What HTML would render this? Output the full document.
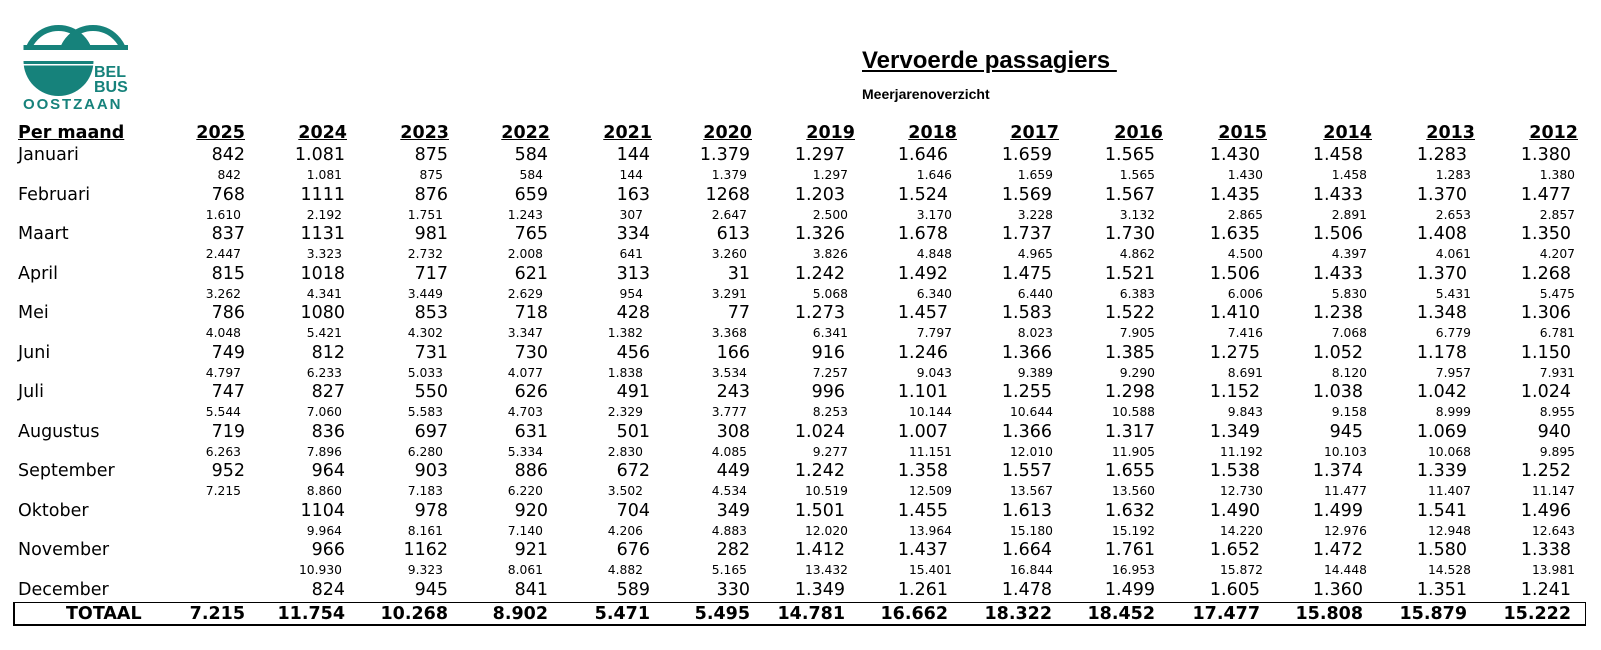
<!DOCTYPE html>
<html><head><meta charset="utf-8">
<style>
body{margin:0;width:1601px;height:650px;background:#fff;position:relative;overflow:hidden;font-family:"DejaVu Sans","Liberation Sans",sans-serif;color:#000}
.r{position:absolute;left:0;width:1601px;height:22px;line-height:22px}
.r span{position:absolute;width:130px;text-align:right;top:0}
.m{font-size:17.5px}
.s{font-size:12.3px}
.h{font-size:17.5px;font-weight:bold}
.h span{text-decoration:underline}
.t{font-size:17.5px;font-weight:bold}
.lab{position:absolute;left:18px;font-size:17.5px;line-height:22px}
.m span:nth-child(1),.t span:nth-child(1){left:115px}.m span:nth-child(2),.t span:nth-child(2){left:215px}.m span:nth-child(3),.t span:nth-child(3){left:318px}.m span:nth-child(4),.t span:nth-child(4){left:418px}.m span:nth-child(5),.t span:nth-child(5){left:520px}.m span:nth-child(6),.t span:nth-child(6){left:620px}.m span:nth-child(7),.t span:nth-child(7){left:715px}.m span:nth-child(8),.t span:nth-child(8){left:818px}.m span:nth-child(9),.t span:nth-child(9){left:922px}.m span:nth-child(10),.t span:nth-child(10){left:1025px}.m span:nth-child(11),.t span:nth-child(11){left:1130px}.m span:nth-child(12),.t span:nth-child(12){left:1233px}.m span:nth-child(13),.t span:nth-child(13){left:1337px}.m span:nth-child(14),.t span:nth-child(14){left:1441px}
.s span:nth-child(1){left:111px}.s span:nth-child(2){left:212px}.s span:nth-child(3){left:313px}.s span:nth-child(4){left:413px}.s span:nth-child(5){left:513px}.s span:nth-child(6){left:617px}.s span:nth-child(7){left:718px}.s span:nth-child(8){left:822px}.s span:nth-child(9){left:923px}.s span:nth-child(10){left:1025px}.s span:nth-child(11){left:1133px}.s span:nth-child(12){left:1237px}.s span:nth-child(13){left:1341px}.s span:nth-child(14){left:1445px}
.h span:nth-child(1){left:115px}.h span:nth-child(2){left:217px}.h span:nth-child(3){left:319px}.h span:nth-child(4){left:420px}.h span:nth-child(5){left:522px}.h span:nth-child(6){left:622px}.h span:nth-child(7){left:725px}.h span:nth-child(8){left:827px}.h span:nth-child(9){left:929px}.h span:nth-child(10){left:1033px}.h span:nth-child(11){left:1137px}.h span:nth-child(12){left:1242px}.h span:nth-child(13){left:1345px}.h span:nth-child(14){left:1448px}
</style></head><body>
<svg style="position:absolute;left:0;top:0" width="140" height="120">
<defs><clipPath id="c1"><circle cx="58.5" cy="60" r="35"/></clipPath><clipPath id="top"><rect x="0" y="0" width="140" height="50"/></clipPath></defs>
<g clip-path="url(#top)" fill="none" stroke="#16827b" stroke-width="6">
<circle cx="58.5" cy="60" r="32"/><circle cx="93" cy="60" r="32"/>
</g>
<g clip-path="url(#top)"><circle cx="93" cy="60" r="35" fill="#16827b" clip-path="url(#c1)"/></g>
<rect x="23.5" y="45" width="104.5" height="5" fill="#16827b"/>
<path d="M23.5 61 L93.5 61 A35 35 0 0 1 23.5 61 Z" fill="#16827b"/>
<rect x="23" y="64" width="72" height="1.5" fill="#fff"/>
<text x="94" y="77" font-family="Liberation Sans" font-weight="bold" font-size="16" fill="#16827b">BEL</text>
<text x="94" y="92" font-family="Liberation Sans" font-weight="bold" font-size="16" fill="#16827b">BUS</text>
<text x="23" y="109" font-family="Liberation Sans" font-weight="bold" font-size="15" fill="#16827b" letter-spacing="1.9">OOSTZAAN</text>
</svg>
<div style="position:absolute;left:862px;top:47px;font-family:'Liberation Sans',sans-serif;font-weight:bold;font-size:24px;text-decoration:underline;white-space:pre">Vervoerde passagiers </div>
<div style="position:absolute;left:862px;top:86px;font-family:'Liberation Sans',sans-serif;font-weight:bold;font-size:14px">Meerjarenoverzicht</div>

<div class="lab" style="top:122px;font-weight:bold;text-decoration:underline">Per maand</div>
<div class="r h" style="top:122px"><span>2025</span><span>2024</span><span>2023</span><span>2022</span><span>2021</span><span>2020</span><span>2019</span><span>2018</span><span>2017</span><span>2016</span><span>2015</span><span>2014</span><span>2013</span><span>2012</span></div>

<div class="lab" style="top:144px">Januari</div>
<div class="r m" style="top:144px"><span>842</span><span>1.081</span><span>875</span><span>584</span><span>144</span><span>1.379</span><span>1.297</span><span>1.646</span><span>1.659</span><span>1.565</span><span>1.430</span><span>1.458</span><span>1.283</span><span>1.380</span></div>
<div class="r s" style="top:164px"><span>842</span><span>1.081</span><span>875</span><span>584</span><span>144</span><span>1.379</span><span>1.297</span><span>1.646</span><span>1.659</span><span>1.565</span><span>1.430</span><span>1.458</span><span>1.283</span><span>1.380</span></div>

<div class="lab" style="top:183.5px">Februari</div>
<div class="r m" style="top:183.5px"><span>768</span><span>1111</span><span>876</span><span>659</span><span>163</span><span>1268</span><span>1.203</span><span>1.524</span><span>1.569</span><span>1.567</span><span>1.435</span><span>1.433</span><span>1.370</span><span>1.477</span></div>
<div class="r s" style="top:203.5px"><span>1.610</span><span>2.192</span><span>1.751</span><span>1.243</span><span>307</span><span>2.647</span><span>2.500</span><span>3.170</span><span>3.228</span><span>3.132</span><span>2.865</span><span>2.891</span><span>2.653</span><span>2.857</span></div>

<div class="lab" style="top:223px">Maart</div>
<div class="r m" style="top:223px"><span>837</span><span>1131</span><span>981</span><span>765</span><span>334</span><span>613</span><span>1.326</span><span>1.678</span><span>1.737</span><span>1.730</span><span>1.635</span><span>1.506</span><span>1.408</span><span>1.350</span></div>
<div class="r s" style="top:243px"><span>2.447</span><span>3.323</span><span>2.732</span><span>2.008</span><span>641</span><span>3.260</span><span>3.826</span><span>4.848</span><span>4.965</span><span>4.862</span><span>4.500</span><span>4.397</span><span>4.061</span><span>4.207</span></div>

<div class="lab" style="top:262.5px">April</div>
<div class="r m" style="top:262.5px"><span>815</span><span>1018</span><span>717</span><span>621</span><span>313</span><span>31</span><span>1.242</span><span>1.492</span><span>1.475</span><span>1.521</span><span>1.506</span><span>1.433</span><span>1.370</span><span>1.268</span></div>
<div class="r s" style="top:282.5px"><span>3.262</span><span>4.341</span><span>3.449</span><span>2.629</span><span>954</span><span>3.291</span><span>5.068</span><span>6.340</span><span>6.440</span><span>6.383</span><span>6.006</span><span>5.830</span><span>5.431</span><span>5.475</span></div>

<div class="lab" style="top:302px">Mei</div>
<div class="r m" style="top:302px"><span>786</span><span>1080</span><span>853</span><span>718</span><span>428</span><span>77</span><span>1.273</span><span>1.457</span><span>1.583</span><span>1.522</span><span>1.410</span><span>1.238</span><span>1.348</span><span>1.306</span></div>
<div class="r s" style="top:322px"><span>4.048</span><span>5.421</span><span>4.302</span><span>3.347</span><span>1.382</span><span>3.368</span><span>6.341</span><span>7.797</span><span>8.023</span><span>7.905</span><span>7.416</span><span>7.068</span><span>6.779</span><span>6.781</span></div>

<div class="lab" style="top:341.5px">Juni</div>
<div class="r m" style="top:341.5px"><span>749</span><span>812</span><span>731</span><span>730</span><span>456</span><span>166</span><span>916</span><span>1.246</span><span>1.366</span><span>1.385</span><span>1.275</span><span>1.052</span><span>1.178</span><span>1.150</span></div>
<div class="r s" style="top:361.5px"><span>4.797</span><span>6.233</span><span>5.033</span><span>4.077</span><span>1.838</span><span>3.534</span><span>7.257</span><span>9.043</span><span>9.389</span><span>9.290</span><span>8.691</span><span>8.120</span><span>7.957</span><span>7.931</span></div>

<div class="lab" style="top:381px">Juli</div>
<div class="r m" style="top:381px"><span>747</span><span>827</span><span>550</span><span>626</span><span>491</span><span>243</span><span>996</span><span>1.101</span><span>1.255</span><span>1.298</span><span>1.152</span><span>1.038</span><span>1.042</span><span>1.024</span></div>
<div class="r s" style="top:401px"><span>5.544</span><span>7.060</span><span>5.583</span><span>4.703</span><span>2.329</span><span>3.777</span><span>8.253</span><span>10.144</span><span>10.644</span><span>10.588</span><span>9.843</span><span>9.158</span><span>8.999</span><span>8.955</span></div>

<div class="lab" style="top:420.5px">Augustus</div>
<div class="r m" style="top:420.5px"><span>719</span><span>836</span><span>697</span><span>631</span><span>501</span><span>308</span><span>1.024</span><span>1.007</span><span>1.366</span><span>1.317</span><span>1.349</span><span>945</span><span>1.069</span><span>940</span></div>
<div class="r s" style="top:440.5px"><span>6.263</span><span>7.896</span><span>6.280</span><span>5.334</span><span>2.830</span><span>4.085</span><span>9.277</span><span>11.151</span><span>12.010</span><span>11.905</span><span>11.192</span><span>10.103</span><span>10.068</span><span>9.895</span></div>

<div class="lab" style="top:460px">September</div>
<div class="r m" style="top:460px"><span>952</span><span>964</span><span>903</span><span>886</span><span>672</span><span>449</span><span>1.242</span><span>1.358</span><span>1.557</span><span>1.655</span><span>1.538</span><span>1.374</span><span>1.339</span><span>1.252</span></div>
<div class="r s" style="top:480px"><span>7.215</span><span>8.860</span><span>7.183</span><span>6.220</span><span>3.502</span><span>4.534</span><span>10.519</span><span>12.509</span><span>13.567</span><span>13.560</span><span>12.730</span><span>11.477</span><span>11.407</span><span>11.147</span></div>

<div class="lab" style="top:499.5px">Oktober</div>
<div class="r m" style="top:499.5px"><span></span><span>1104</span><span>978</span><span>920</span><span>704</span><span>349</span><span>1.501</span><span>1.455</span><span>1.613</span><span>1.632</span><span>1.490</span><span>1.499</span><span>1.541</span><span>1.496</span></div>
<div class="r s" style="top:519.5px"><span></span><span>9.964</span><span>8.161</span><span>7.140</span><span>4.206</span><span>4.883</span><span>12.020</span><span>13.964</span><span>15.180</span><span>15.192</span><span>14.220</span><span>12.976</span><span>12.948</span><span>12.643</span></div>

<div class="lab" style="top:539px">November</div>
<div class="r m" style="top:539px"><span></span><span>966</span><span>1162</span><span>921</span><span>676</span><span>282</span><span>1.412</span><span>1.437</span><span>1.664</span><span>1.761</span><span>1.652</span><span>1.472</span><span>1.580</span><span>1.338</span></div>
<div class="r s" style="top:559px"><span></span><span>10.930</span><span>9.323</span><span>8.061</span><span>4.882</span><span>5.165</span><span>13.432</span><span>15.401</span><span>16.844</span><span>16.953</span><span>15.872</span><span>14.448</span><span>14.528</span><span>13.981</span></div>

<div class="lab" style="top:578.5px">December</div>
<div class="r m" style="top:578.5px"><span></span><span>824</span><span>945</span><span>841</span><span>589</span><span>330</span><span>1.349</span><span>1.261</span><span>1.478</span><span>1.499</span><span>1.605</span><span>1.360</span><span>1.351</span><span>1.241</span></div>

<div style="position:absolute;left:13px;top:602px;width:1570px;height:21px;border:1px solid #000;border-left:2px solid #000;border-bottom:2px solid #000"></div>
<div class="lab" style="top:603px;left:66px;font-weight:bold">TOTAAL</div>
<div class="r t" style="top:603px"><span>7.215</span><span>11.754</span><span>10.268</span><span>8.902</span><span>5.471</span><span>5.495</span><span>14.781</span><span>16.662</span><span>18.322</span><span>18.452</span><span>17.477</span><span>15.808</span><span>15.879</span><span>15.222</span></div>
</body></html>
